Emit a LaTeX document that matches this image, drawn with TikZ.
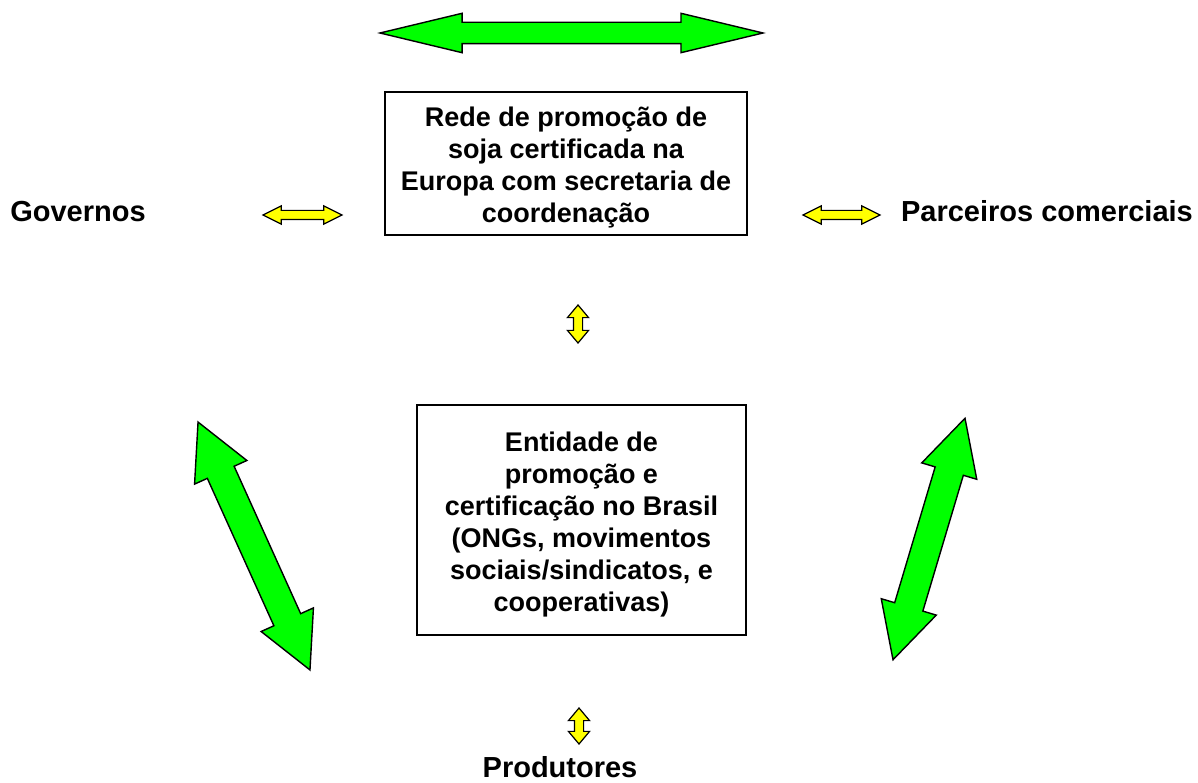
\documentclass[tikz,border=0pt]{standalone}
\usepackage{fontspec}
\setmainfont{Liberation Sans}
\usepackage{xcolor}
\usetikzlibrary{shapes.arrows}

\definecolor{vivid}{RGB}{0,255,0}
\definecolor{amarelo}{RGB}{255,255,0}

\tikzset{
  caixa/.style={draw, line width=1.5pt, align=center, inner sep=0pt,
    font=\bfseries\fontsize{27}{32}\selectfont},
  rotulo/.style={anchor=base, inner sep=0pt,
    font=\bfseries\fontsize{29}{34}\selectfont},
  seta/.style={double arrow, draw, line width=1.4pt, inner xsep=0pt,
    text height=0pt, text depth=0pt, text width=0pt},
  setaverde/.style={seta, fill=vivid},
  setaamarela/.style={seta, fill=amarelo, line width=1.2pt, inner ysep=4pt,
    double arrow tip angle=53, double arrow head extend=4.5pt},
}

\begin{document}
\begin{tikzpicture}[x=1pt, y=-1pt]
  \useasboundingbox (0,0) rectangle (1198,783);
      \node[caixa, minimum width=362pt, minimum height=143pt] (R) at (566,163.5)
        {\rule{0pt}{28pt}Rede de promoção de\\soja certificada na\\Europa com secretaria de\\coordenação};
      \node[caixa, minimum width=329pt, minimum height=230pt] (E) at (581.5,520)
        {\rule{0pt}{28pt}Entidade de\\promoção e\\certificação no Brasil\\(ONGs, movimentos\\sociais/sindicatos, e\\cooperativas)};
      \node[rotulo] (G) at (78,222) {Governos};
      \node[rotulo] (P) at (1047,222) {Parceiros comerciais};
      \node[rotulo] (Pr) at (560,777) {Produtores};
    % green block arrows
    \node[setaverde, inner ysep=10pt, minimum height=383pt, minimum width=38pt,
      double arrow tip angle=27, double arrow head extend=9pt] (topo) at (571.5,33) {};
    \node[setaverde, inner ysep=14pt, minimum height=272pt, minimum width=56pt,
      double arrow tip angle=55, double arrow head extend=14pt, rotate=-65.7] (esq) at (254,546) {};
    \node[setaverde, inner ysep=14pt, minimum height=252pt, minimum width=56pt,
      double arrow tip angle=55, double arrow head extend=14pt, rotate=73.4] (dir) at (929,539) {};
    % yellow block arrows
    \node[setaamarela, minimum height=79pt, minimum width=17pt] (yG) at (302.5,215) {};
    \node[setaamarela, minimum height=77pt, minimum width=17pt] (yP) at (841.5,215) {};
    \node[setaamarela, minimum height=38pt, minimum width=20pt, double arrow tip angle=80,
      double arrow head extend=6pt, rotate=90] (yR) at (578,324) {};
    \node[setaamarela, minimum height=36pt, minimum width=20pt, double arrow tip angle=80,
      double arrow head extend=6pt, rotate=90] (yPr) at (579,726) {};
\end{tikzpicture}
\end{document}
